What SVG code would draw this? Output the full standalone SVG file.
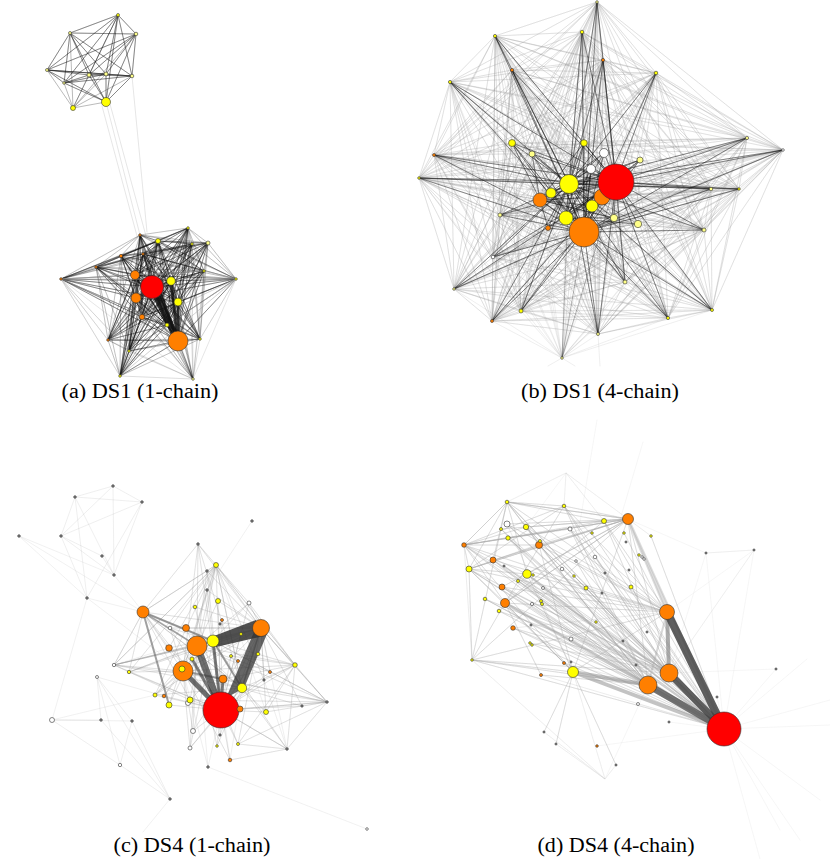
<svg xmlns="http://www.w3.org/2000/svg" width="830" height="859" viewBox="0 0 830 859">
<style>
path{fill:none;stroke-linecap:round;stroke-linejoin:round}
.ad{stroke:#111;stroke-opacity:.42;stroke-width:.7}
.am{stroke:#222;stroke-opacity:.25;stroke-width:.6}
.al{stroke:#aaa;stroke-opacity:.5;stroke-width:.6}
.bl{stroke:#999;stroke-opacity:.26;stroke-width:.6}
.bd{stroke:#111;stroke-opacity:.38;stroke-width:.8}
.cl{stroke:#999;stroke-opacity:.22;stroke-width:.7}
.cf{stroke:#bbb;stroke-opacity:.35;stroke-width:.6}
.dl{stroke:#aaa;stroke-opacity:.28;stroke-width:.8}
.df{stroke:#ccc;stroke-opacity:.3;stroke-width:.6}
circle{stroke:#333;stroke-width:.6}
.r{fill:#ff0000}.o{fill:#ff7f00}.y{fill:#ffff00}.p{fill:#ffff88}.w{fill:#ffffff}.g{fill:#888888}
text{font-family:"Liberation Serif","Times New Roman",serif;font-size:20px;fill:#000}
</style>
<rect width="830" height="859" fill="#fff"/>
<g id="connectors">
<g id="edges-a">
<path class="al" d="M106 102L140 235M102 106L137 236M132 76L147 232M110 104L146 236"/>
<path class="ad" d="M118 15L136 34 118 15 70 33 118 15 47 70 118 15 89 75 118 15 106 74 118 15 132 76 118 15 64 83 118 15 106 102 118 15 73 108"/>
<path class="ad" d="M136 34L70 33 136 34 47 70 136 34 89 75 136 34 106 74 136 34 132 76 136 34 64 83 136 34 106 102 136 34 73 108"/>
<path class="ad" d="M70 33L47 70 70 33 89 75 70 33 106 74 70 33 132 76 70 33 64 83 70 33 106 102 70 33 73 108"/>
<path class="ad" d="M47 70L89 75 47 70 106 74 47 70 132 76 47 70 64 83 47 70 106 102 47 70 73 108"/>
<path class="ad" d="M89 75L106 74 89 75 132 76 89 75 64 83 89 75 106 102 89 75 73 108"/>
<path class="ad" d="M106 74L132 76 106 74 64 83 106 74 106 102 106 74 73 108M132 76L64 83 132 76 106 102 132 76 73 108M64 83L106 102 64 83 73 108M106 102L73 108"/>
<path class="ad" d="M152 287L140 235 152 287 188 228 152 287 158 241 152 287 192 244 152 287 208 243 152 287 121 256 152 287 143 254 152 287 96 267 152 287 61 279 152 287 236 279 152 287 204 271 152 287 135 275 152 287 171 281 152 287 136 298 152 287 178 302 152 287 142 317 152 287 167 325 152 287 178 341 152 287 108 340 152 287 200 339 152 287 129 351 152 287 120 376 152 287 193 379"/>
<path class="ad" d="M178 341L140 235 178 341 188 228 178 341 158 241 178 341 192 244 178 341 208 243 178 341 121 256 178 341 143 254 178 341 96 267 178 341 61 279 178 341 236 279 178 341 204 271 178 341 135 275 178 341 171 281 178 341 136 298 178 341 178 302 178 341 142 317 178 341 167 325 178 341 108 340 178 341 200 339 178 341 129 351 178 341 120 376 178 341 193 379"/>
<path class="ad" d="M135 275L140 235 135 275 188 228 135 275 158 241 135 275 192 244 135 275 208 243 135 275 121 256 135 275 143 254 135 275 96 267 135 275 61 279 135 275 236 279 135 275 204 271 135 275 171 281 135 275 136 298 135 275 178 302 135 275 142 317 135 275 167 325 135 275 108 340 135 275 200 339 135 275 129 351 135 275 120 376 135 275 193 379"/>
<path class="ad" d="M171 281L140 235 171 281 188 228 171 281 158 241 171 281 192 244 171 281 208 243 171 281 121 256 171 281 143 254 171 281 96 267 171 281 61 279 171 281 236 279 171 281 204 271 171 281 136 298 171 281 178 302 171 281 142 317 171 281 167 325 171 281 108 340 171 281 200 339 171 281 129 351 171 281 120 376 171 281 193 379"/>
<path class="ad" d="M136 298L140 235 136 298 188 228 136 298 158 241 136 298 192 244 136 298 208 243 136 298 121 256 136 298 143 254 136 298 96 267 136 298 61 279 136 298 236 279 136 298 204 271 136 298 178 302 136 298 142 317 136 298 167 325 136 298 108 340 136 298 200 339 136 298 129 351 136 298 120 376 136 298 193 379"/>
<path class="ad" d="M178 302L140 235 178 302 188 228 178 302 158 241 178 302 192 244 178 302 208 243 178 302 121 256 178 302 143 254 178 302 96 267 178 302 61 279 178 302 236 279 178 302 204 271 178 302 142 317 178 302 167 325 178 302 108 340 178 302 200 339 178 302 129 351 178 302 120 376 178 302 193 379"/>
<path class="ad" d="M142 317L140 235 142 317 188 228 142 317 158 241 142 317 192 244 142 317 208 243 142 317 121 256 142 317 143 254 142 317 96 267 142 317 61 279 142 317 236 279 142 317 204 271 142 317 167 325 142 317 108 340 142 317 200 339 142 317 129 351 142 317 120 376 142 317 193 379"/>
<path class="ad" d="M158 241L140 235 158 241 188 228 158 241 192 244 158 241 208 243 158 241 121 256 158 241 143 254 158 241 96 267 158 241 61 279 158 241 236 279 158 241 204 271 158 241 167 325 158 241 108 340 158 241 200 339 158 241 129 351 158 241 120 376 158 241 193 379"/>
<path class="ad" d="M143 254L140 235 143 254 188 228 143 254 192 244 143 254 208 243 143 254 121 256 143 254 96 267 143 254 61 279 143 254 236 279 143 254 204 271 143 254 167 325 143 254 108 340 143 254 200 339 143 254 129 351 143 254 120 376 143 254 193 379"/>
<path class="ad" d="M167 325L140 235 167 325 188 228 167 325 192 244 167 325 208 243 167 325 121 256 167 325 96 267 167 325 61 279 167 325 236 279 167 325 204 271 167 325 108 340 167 325 200 339 167 325 129 351 167 325 120 376 167 325 193 379"/>
<path class="am" d="M140 235L188 228 140 235 192 244 140 235 208 243 140 235 121 256 140 235 96 267 140 235 61 279 140 235 236 279 140 235 204 271 140 235 108 340 140 235 200 339 140 235 129 351 140 235 120 376 140 235 193 379"/>
<path class="am" d="M188 228L192 244 188 228 208 243 188 228 121 256 188 228 96 267 188 228 61 279 188 228 236 279 188 228 204 271 188 228 108 340 188 228 200 339 188 228 129 351 188 228 120 376 188 228 193 379"/>
<path class="am" d="M192 244L208 243 192 244 121 256 192 244 96 267 192 244 61 279 192 244 236 279 192 244 204 271 192 244 108 340 192 244 200 339 192 244 129 351 192 244 120 376 192 244 193 379"/>
<path class="am" d="M208 243L121 256 208 243 96 267 208 243 61 279 208 243 236 279 208 243 204 271 208 243 108 340 208 243 200 339 208 243 129 351 208 243 120 376 208 243 193 379"/>
<path class="am" d="M121 256L96 267 121 256 61 279 121 256 236 279 121 256 204 271 121 256 108 340 121 256 200 339 121 256 129 351 121 256 120 376 121 256 193 379"/>
<path class="am" d="M96 267L61 279 96 267 236 279 96 267 204 271 96 267 108 340 96 267 200 339 96 267 129 351 96 267 120 376 96 267 193 379"/>
<path class="al" d="M61 279L236 279 61 279 204 271 61 279 108 340 61 279 200 339 61 279 129 351 61 279 120 376 61 279 193 379M236 279L204 271 236 279 108 340 236 279 200 339 236 279 129 351 236 279 120 376 236 279 193 379"/>
<path class="am" d="M204 271L108 340 204 271 200 339 204 271 129 351 204 271 120 376 204 271 193 379M108 340L200 339 108 340 129 351 108 340 120 376 108 340 193 379M200 339L129 351 200 339 120 376 200 339 193 379M129 351L120 376 129 351 193 379M120 376L193 379"/>
<path d="M152 287L178 341" stroke="#111" stroke-opacity=".85" stroke-width="7"/>
<path d="M171 281L178 341M178 302L178 341M160 292L176 336" stroke="#111" stroke-opacity=".8" stroke-width="3"/>
</g>
<g id="edges-b">
<path class="bl" d="M597 2L582 32 597 2 495 36 597 2 603 60 597 2 512 70 597 2 656 73 597 2 450 82 597 2 747 138 597 2 783 150 597 2 434 155 597 2 419 178 597 2 711 189 597 2 739 189 597 2 500 215 597 2 704 230 597 2 493 257 597 2 625 282 597 2 454 289 597 2 521 311 597 2 492 321 597 2 668 318 597 2 712 310 597 2 598 334 597 2 562 358"/>
<path class="bl" d="M582 32L495 36 582 32 603 60 582 32 512 70 582 32 656 73 582 32 450 82 582 32 747 138 582 32 783 150 582 32 434 155 582 32 419 178 582 32 711 189 582 32 739 189 582 32 500 215 582 32 704 230 582 32 493 257 582 32 625 282 582 32 454 289 582 32 521 311 582 32 492 321 582 32 668 318 582 32 712 310 582 32 598 334 582 32 562 358"/>
<path class="bl" d="M495 36L603 60 495 36 512 70 495 36 656 73 495 36 450 82 495 36 747 138 495 36 783 150 495 36 434 155 495 36 419 178 495 36 711 189 495 36 739 189 495 36 500 215 495 36 704 230 495 36 493 257 495 36 625 282 495 36 454 289 495 36 521 311 495 36 492 321 495 36 668 318 495 36 712 310 495 36 598 334 495 36 562 358"/>
<path class="bl" d="M603 60L512 70 603 60 656 73 603 60 450 82 603 60 747 138 603 60 783 150 603 60 434 155 603 60 419 178 603 60 711 189 603 60 739 189 603 60 500 215 603 60 704 230 603 60 493 257 603 60 625 282 603 60 454 289 603 60 521 311 603 60 492 321 603 60 668 318 603 60 712 310 603 60 598 334 603 60 562 358"/>
<path class="bl" d="M512 70L656 73 512 70 450 82 512 70 747 138 512 70 783 150 512 70 434 155 512 70 419 178 512 70 711 189 512 70 739 189 512 70 500 215 512 70 704 230 512 70 493 257 512 70 625 282 512 70 454 289 512 70 521 311 512 70 492 321 512 70 668 318 512 70 712 310 512 70 598 334 512 70 562 358"/>
<path class="bl" d="M656 73L450 82 656 73 747 138 656 73 783 150 656 73 434 155 656 73 419 178 656 73 711 189 656 73 739 189 656 73 500 215 656 73 704 230 656 73 493 257 656 73 625 282 656 73 454 289 656 73 521 311 656 73 492 321 656 73 668 318 656 73 712 310 656 73 598 334 656 73 562 358"/>
<path class="bl" d="M450 82L747 138 450 82 783 150 450 82 434 155 450 82 419 178 450 82 711 189 450 82 739 189 450 82 500 215 450 82 704 230 450 82 493 257 450 82 625 282 450 82 454 289 450 82 521 311 450 82 492 321 450 82 668 318 450 82 712 310 450 82 598 334 450 82 562 358"/>
<path class="bl" d="M747 138L783 150 747 138 434 155 747 138 419 178 747 138 711 189 747 138 739 189 747 138 500 215 747 138 704 230 747 138 493 257 747 138 625 282 747 138 454 289 747 138 521 311 747 138 492 321 747 138 668 318 747 138 712 310 747 138 598 334 747 138 562 358"/>
<path class="bl" d="M783 150L434 155 783 150 419 178 783 150 711 189 783 150 739 189 783 150 500 215 783 150 704 230 783 150 493 257 783 150 625 282 783 150 454 289 783 150 521 311 783 150 492 321 783 150 668 318 783 150 712 310 783 150 598 334 783 150 562 358"/>
<path class="bl" d="M434 155L419 178 434 155 711 189 434 155 739 189 434 155 500 215 434 155 704 230 434 155 493 257 434 155 625 282 434 155 454 289 434 155 521 311 434 155 492 321 434 155 668 318 434 155 712 310 434 155 598 334 434 155 562 358"/>
<path class="bl" d="M419 178L711 189 419 178 739 189 419 178 500 215 419 178 704 230 419 178 493 257 419 178 625 282 419 178 454 289 419 178 521 311 419 178 492 321 419 178 668 318 419 178 712 310 419 178 598 334 419 178 562 358"/>
<path class="bl" d="M711 189L739 189 711 189 500 215 711 189 704 230 711 189 493 257 711 189 625 282 711 189 454 289 711 189 521 311 711 189 492 321 711 189 668 318 711 189 712 310 711 189 598 334 711 189 562 358"/>
<path class="bl" d="M739 189L500 215 739 189 704 230 739 189 493 257 739 189 625 282 739 189 454 289 739 189 521 311 739 189 492 321 739 189 668 318 739 189 712 310 739 189 598 334 739 189 562 358"/>
<path class="bl" d="M500 215L704 230 500 215 493 257 500 215 625 282 500 215 454 289 500 215 521 311 500 215 492 321 500 215 668 318 500 215 712 310 500 215 598 334 500 215 562 358M704 230L493 257 704 230 625 282 704 230 454 289 704 230 521 311 704 230 492 321 704 230 668 318 704 230 712 310 704 230 598 334 704 230 562 358"/>
<path class="bl" d="M493 257L625 282 493 257 454 289 493 257 521 311 493 257 492 321 493 257 668 318 493 257 712 310 493 257 598 334 493 257 562 358M625 282L454 289 625 282 521 311 625 282 492 321 625 282 668 318 625 282 712 310 625 282 598 334 625 282 562 358M454 289L521 311 454 289 492 321 454 289 668 318 454 289 712 310 454 289 598 334 454 289 562 358"/>
<path class="bl" d="M521 311L492 321 521 311 668 318 521 311 712 310 521 311 598 334 521 311 562 358M492 321L668 318 492 321 712 310 492 321 598 334 492 321 562 358M668 318L712 310 668 318 598 334 668 318 562 358M712 310L598 334 712 310 562 358M598 334L562 358M562 358L575 366M598 334L600 366M562 358L548 366"/>
<path class="bl" d="M602 197L597 2 602 197 582 32 602 197 495 36 602 197 603 60 602 197 512 70 602 197 656 73 602 197 450 82 602 197 747 138 602 197 783 150 602 197 434 155 602 197 419 178 602 197 711 189 602 197 739 189 602 197 500 215 602 197 704 230 602 197 493 257 602 197 625 282 602 197 454 289 602 197 521 311 602 197 492 321 602 197 668 318 602 197 712 310 602 197 598 334 602 197 562 358"/>
<path class="bl" d="M540 200L597 2 540 200 582 32 540 200 495 36 540 200 603 60 540 200 512 70 540 200 656 73 540 200 450 82 540 200 747 138 540 200 783 150 540 200 434 155 540 200 419 178 540 200 711 189 540 200 739 189 540 200 500 215 540 200 704 230 540 200 493 257 540 200 625 282 540 200 454 289 540 200 521 311 540 200 492 321 540 200 668 318 540 200 712 310 540 200 598 334 540 200 562 358"/>
<path class="bl" d="M592 206L597 2 592 206 582 32 592 206 495 36 592 206 603 60 592 206 512 70 592 206 656 73 592 206 450 82 592 206 747 138 592 206 783 150 592 206 434 155 592 206 419 178 592 206 711 189 592 206 739 189 592 206 500 215 592 206 704 230 592 206 493 257 592 206 625 282 592 206 454 289 592 206 521 311 592 206 492 321 592 206 668 318 592 206 712 310 592 206 598 334 592 206 562 358"/>
<path class="bl" d="M512 143L597 2 512 143 582 32 512 143 495 36 512 143 603 60 512 143 512 70 512 143 656 73 512 143 450 82 512 143 747 138 512 143 783 150 512 143 434 155 512 143 419 178 512 143 711 189 512 143 739 189 512 143 500 215 512 143 704 230 512 143 493 257 512 143 625 282 512 143 454 289 512 143 521 311 512 143 492 321 512 143 668 318 512 143 712 310 512 143 598 334 512 143 562 358"/>
<path class="bl" d="M584 143L597 2 584 143 582 32 584 143 495 36 584 143 603 60 584 143 512 70 584 143 656 73 584 143 450 82 584 143 747 138 584 143 783 150 584 143 434 155 584 143 419 178 584 143 711 189 584 143 739 189 584 143 500 215 584 143 704 230 584 143 493 257 584 143 625 282 584 143 454 289 584 143 521 311 584 143 492 321 584 143 668 318 584 143 712 310 584 143 598 334 584 143 562 358"/>
<path class="bl" d="M614 218L597 2 614 218 582 32 614 218 495 36 614 218 603 60 614 218 512 70 614 218 656 73 614 218 450 82 614 218 747 138 614 218 783 150 614 218 434 155 614 218 419 178 614 218 711 189 614 218 739 189 614 218 500 215 614 218 704 230 614 218 493 257 614 218 625 282 614 218 454 289 614 218 521 311 614 218 492 321 614 218 668 318 614 218 712 310 614 218 598 334 614 218 562 358"/>
<path class="bl" d="M566 218L597 2 566 218 582 32 566 218 495 36 566 218 603 60 566 218 512 70 566 218 656 73 566 218 450 82 566 218 747 138 566 218 434 155 566 218 419 178 566 218 711 189 566 218 500 215 566 218 704 230 566 218 493 257 566 218 625 282 566 218 454 289 566 218 521 311 566 218 492 321 566 218 668 318 566 218 712 310 566 218 598 334 566 218 562 358"/>
<path class="bd" d="M616 182L597 2 616 182 582 32 616 182 495 36 616 182 603 60 616 182 512 70 616 182 656 73 616 182 450 82 616 182 747 138 616 182 783 150 616 182 434 155 616 182 419 178 616 182 711 189 616 182 739 189 616 182 500 215 616 182 704 230 616 182 493 257 616 182 625 282 616 182 454 289 616 182 521 311 616 182 492 321 616 182 668 318 616 182 712 310 616 182 598 334 616 182 562 358"/>
<path class="bd" d="M584 232L597 2 584 232 582 32 584 232 495 36 584 232 603 60 584 232 512 70 584 232 656 73 584 232 450 82 584 232 747 138 584 232 783 150 584 232 434 155 584 232 419 178 584 232 711 189 584 232 739 189 584 232 500 215 584 232 704 230 584 232 493 257 584 232 625 282 584 232 454 289 584 232 521 311 584 232 492 321 584 232 668 318 584 232 712 310 584 232 598 334 584 232 562 358"/>
<path class="bd" d="M569 184L597 2 569 184 582 32 569 184 495 36 569 184 603 60 569 184 512 70 569 184 656 73 569 184 450 82 569 184 747 138 569 184 783 150 569 184 434 155 569 184 419 178 569 184 711 189 569 184 739 189 569 184 500 215 569 184 704 230 569 184 493 257 569 184 625 282 569 184 454 289 569 184 521 311 569 184 492 321 569 184 668 318 569 184 712 310 569 184 598 334 569 184 562 358"/>
<path class="bd" d="M616 182L512 143 616 182 584 143 616 182 532 154 616 182 604 153 616 182 640 160 616 182 591 169 616 182 569 184 616 182 551 193 616 182 540 200 616 182 602 197 616 182 592 206 616 182 566 218 616 182 614 218 616 182 548 228 616 182 638 224 616 182 584 232"/>
<path class="bd" d="M584 232L512 143 584 232 584 143 584 232 532 154 584 232 604 153 584 232 640 160 584 232 591 169 584 232 569 184 584 232 551 193 584 232 540 200 584 232 602 197 584 232 592 206 584 232 566 218 584 232 614 218 584 232 548 228 584 232 638 224"/>
<path class="bd" d="M569 184L512 143 569 184 584 143 569 184 532 154 569 184 604 153 569 184 640 160 569 184 591 169 569 184 551 193 569 184 540 200 569 184 602 197 569 184 592 206 569 184 566 218 569 184 614 218 569 184 548 228 569 184 638 224"/>
<path class="bd" d="M540 200L512 143 540 200 584 143 540 200 532 154 540 200 604 153 540 200 640 160 540 200 591 169 540 200 602 197 540 200 592 206 540 200 566 218 540 200 614 218 540 200 548 228 540 200 638 224M566 218L512 143 566 218 584 143 566 218 604 153 566 218 640 160 566 218 591 169 566 218 602 197 566 218 614 218 566 218 638 224 566 218 532 154"/>
</g>
<g id="edges-c">
<path class="cl" d="M75 497L113 486 142 502 75 497 61 536M75 497L114 575M113 486L114 575M113 486L61 536M142 502L61 536M142 502L114 575M142 502L87 598M61 536L114 575M61 536L102 556M102 556L114 575M75 497L87 598M87 598L61 536"/>
<path class="cf" d="M19 536L114 575M19 536L87 598M19 536L143 612M114 575L143 612M87 598L143 612M87 598L183 671M87 598L52 720M252 521L207 590M208 767L367 829M170 799L143 832M52 720L155 695"/>
<path class="cl" d="M52 720L132 721M52 720L120 765M97 677L120 765M97 677L132 721M97 677L170 799M132 721L170 799M101 720L170 799M132 721L120 765M101 720L97 677M52 720L101 720M120 765L170 799M97 677L164 696"/>
<path class="cl" d="M221 710L198 544 221 710 216 565 221 710 207 571 221 710 207 590 221 710 218 601 221 710 195 607 221 710 249 603 221 710 143 612 221 710 170 628 221 710 186 628 221 710 222 620 221 710 261 628 221 710 213 641 221 710 197 646 221 710 241 634 221 710 169 648 221 710 192 659 221 710 231 656 221 710 258 654 221 710 114 665 221 710 129 672 221 710 183 671 221 710 295 665 221 710 270 672 221 710 223 679 221 710 264 680 221 710 242 688 221 710 155 695 221 710 164 696 221 710 190 700 221 710 169 705 221 710 240 709 221 710 266 712 221 710 302 706 221 710 327 702 221 710 193 731 221 710 220 735 221 710 190 748 221 710 217 746 221 710 238 744 221 710 287 749 221 710 230 760 221 710 208 767"/>
<path class="cl" d="M261 628L198 544 261 628 216 565 261 628 207 571 261 628 207 590 261 628 218 601 261 628 195 607 261 628 249 603 261 628 143 612 261 628 170 628 261 628 186 628 261 628 197 646 261 628 169 648 261 628 192 659 261 628 114 665 261 628 129 672 261 628 183 671 261 628 295 665 261 628 270 672 261 628 264 680 261 628 155 695 261 628 190 700 261 628 266 712 261 628 302 706 261 628 327 702 261 628 193 731 261 628 220 735 261 628 238 744 261 628 287 749"/>
<path class="cl" d="M197 646L198 544 197 646 216 565 197 646 207 571 197 646 218 601 197 646 249 603 197 646 143 612 197 646 170 628 197 646 114 665 197 646 129 672 197 646 295 665 197 646 270 672 197 646 155 695 197 646 164 696 197 646 169 705 197 646 266 712 197 646 327 702 197 646 193 731 197 646 190 748 197 646 217 746 197 646 238 744 197 646 208 767"/>
<path class="cl" d="M183 671L198 544 183 671 216 565 183 671 207 590 183 671 249 603 183 671 143 612 183 671 170 628 183 671 114 665 183 671 129 672 183 671 295 665 183 671 155 695 183 671 164 696 183 671 302 706 183 671 327 702 183 671 193 731 183 671 190 748 183 671 230 760 183 671 208 767"/>
<path class="cl" d="M216 565L143 612 216 565 170 628 216 565 169 648 216 565 129 672 216 565 114 665 216 565 155 695 216 565 169 705 216 565 190 700 216 565 242 688 216 565 264 680 216 565 249 603 216 565 198 544 216 565 295 665 216 565 266 712"/>
<path class="cl" d="M295 665L249 603 295 665 213 641 295 665 242 688 295 665 327 702 295 665 287 749 295 665 266 712 295 665 238 744 295 665 264 680 295 665 223 679 295 665 231 656 295 665 216 565M327 702L261 628 327 702 266 712 327 702 238 744 327 702 287 749 327 702 242 688 327 702 213 641 327 702 240 709 327 702 223 679 327 702 190 700 327 702 302 706"/>
<path class="cl" d="M114 665L143 612 114 665 197 646 114 665 213 641 114 665 242 688 114 665 190 700 114 665 216 565 114 665 223 679 114 665 169 648M143 612L213 641 143 612 242 688 143 612 198 544 143 612 190 700 143 612 216 565 143 612 169 648 143 612 129 672 143 612 114 665"/>
<path class="cl" d="M213 641L143 612 213 641 170 628 213 641 114 665 213 641 129 672 213 641 155 695 213 641 190 748 213 641 242 688 213 641 287 749 213 641 327 702 213 641 230 760M242 688L198 544 242 688 216 565 242 688 143 612 242 688 155 695 242 688 190 748 242 688 287 749 242 688 217 746 242 688 230 760M287 749L238 744 287 749 221 710 287 749 230 760 287 749 264 680"/>
<path d="M143 612L169 705M143 612L213 641M213 641L242 688M183 671L223 679" stroke="#777" stroke-opacity=".7" stroke-width="2"/>
<path d="M143 612L197 646M261 628L242 688" stroke="#777" stroke-opacity=".6" stroke-width="1.5"/>
<path d="M197 646L221 710" stroke="#333" stroke-opacity=".7" stroke-width="7"/>
<path d="M183 671L221 710" stroke="#333" stroke-opacity=".7" stroke-width="5"/>
<path d="M213 641L221 710M223 679L221 710M192 659L221 710" stroke="#333" stroke-opacity=".6" stroke-width="3"/>
<polygon points="214,636 256,620 264,636 216,647" fill="#333" fill-opacity=".85"/>
<polygon points="254,632 267,634 244,688 226,698" fill="#333" fill-opacity=".75"/>
</g>
<g id="edges-d">
<path class="df" d="M566 473L507 502 566 473 564 506 566 473 604 521 566 473 628 519 566 473 526 527M597 420L577 540M643 442L620 520M605 779L544 732 605 779 556 744 605 779 616 765 605 779 472 660 605 779 573 672 605 779 648 685"/>
<path class="df" d="M724 729L830 725M724 729L820 800M724 729L800 840M724 729L780 830M724 729L760 859M724 729L776 669M724 729L717 697M724 729L669 722M724 729L754 550M724 729L706 553M724 729L807 659M724 729L830 700M706 553L754 550 706 553 669 673 754 550 669 673M776 669L669 673M706 553L628 519M754 550L667 612M724 729L597 746M724 729L638 704"/>
<path class="dl" d="M724 729L507 502 724 729 564 506 724 729 507 524 724 729 501 529 724 729 526 527 724 729 604 521 724 729 628 519 724 729 570 529 724 729 592 533 724 729 624 533 724 729 651 536 724 729 508 538 724 729 464 545 724 729 539 545 724 729 493 560 724 729 595 557 724 729 576 561 724 729 504 566 724 729 469 569 724 729 562 569 724 729 527 574 724 729 574 576 724 729 518 581 724 729 502 587 724 729 543 588 724 729 586 588 724 729 631 587 724 729 485 599 724 729 532 604 724 729 541 601 724 729 499 611 724 729 596 622 724 729 513 628 724 729 571 639 724 729 530 643 724 729 472 660 724 729 564 663 724 729 541 675"/>
<path class="dl" d="M669 673L507 502 669 673 564 506 669 673 507 524 669 673 526 527 669 673 604 521 669 673 570 529 669 673 508 538 669 673 464 545 669 673 539 545 669 673 493 560 669 673 595 557 669 673 504 566 669 673 469 569 669 673 527 574 669 673 518 581 669 673 502 587 669 673 543 588 669 673 485 599 669 673 505 603 669 673 499 611 669 673 513 628 669 673 530 643 669 673 472 660 669 673 571 639"/>
<path class="dl" d="M648 685L507 502 648 685 564 506 648 685 501 529 648 685 526 527 648 685 570 529 648 685 508 538 648 685 464 545 648 685 539 545 648 685 493 560 648 685 576 561 648 685 469 569 648 685 527 574 648 685 518 581 648 685 502 587 648 685 532 604 648 685 485 599 648 685 505 603 648 685 513 628 648 685 472 660 648 685 573 672 648 685 541 675 648 685 564 663"/>
<path class="dl" d="M667 612L507 502 667 612 564 506 667 612 507 524 667 612 526 527 667 612 604 521 667 612 628 519 667 612 570 529 667 612 464 545 667 612 539 545 667 612 493 560 667 612 469 569 667 612 527 574 667 612 502 587 667 612 505 603 667 612 472 660 667 612 573 672 667 612 513 628"/>
<path class="dl" d="M628 519L507 502 628 519 564 506 628 519 507 524 628 519 501 529 628 519 526 527 628 519 508 538 628 519 464 545 628 519 539 545 628 519 493 560 628 519 469 569 628 519 527 574 628 519 502 587 628 519 505 603 628 519 472 660 628 519 573 672 628 519 648 685 628 519 669 673 628 519 651 536"/>
<path class="dl" d="M464 545L507 502 464 545 564 506 464 545 604 521 464 545 628 519 464 545 526 527 464 545 570 529 464 545 539 545 464 545 469 569 464 545 505 603 464 545 527 574 464 545 573 672 464 545 472 660M469 569L507 502 469 569 564 506 469 569 628 519 469 569 539 545 469 569 527 574 469 569 505 603 469 569 573 672 469 569 472 660 469 569 604 521"/>
<path class="dl" d="M507 502L564 506 507 502 628 519 507 502 604 521 507 502 539 545 507 502 527 574 507 502 472 660 507 502 493 560 507 502 464 545M505 603L628 519 505 603 604 521 505 603 564 506 505 603 573 672 505 603 472 660 505 603 541 675 505 603 527 574M573 672L527 574 573 672 539 545 573 672 505 603 573 672 472 660 573 672 544 732 573 672 556 744 573 672 616 765 573 672 507 524"/>
<path d="M628 519L724 729M628 519L667 612" stroke="#bbb" stroke-opacity=".5" stroke-width="3"/>
<path d="M527 574L724 729M667 612L648 685" stroke="#aaa" stroke-opacity=".45" stroke-width="2"/>
<path d="M505 603L724 729" stroke="#999" stroke-opacity=".45" stroke-width="3"/>
<path d="M573 672L724 729M573 672L648 685" stroke="#888" stroke-opacity=".5" stroke-width="4"/>
<path d="M667 612L669 673" stroke="#888" stroke-opacity=".7" stroke-width="4"/>
<path d="M648 685L724 729" stroke="#555" stroke-opacity=".8" stroke-width="7"/>
<path d="M669 673L724 729" stroke="#444" stroke-opacity=".85" stroke-width="7"/>
<path d="M667 612L724 729" stroke="#444" stroke-opacity=".85" stroke-width="8"/>
</g>
</g>
<g id="nodes-a">
<g id="a-t1"><circle cx="118" cy="15" r="1.5" class="y"/></g>
<g id="a-t2"><circle cx="136" cy="34" r="1.8" class="p"/></g>
<g id="a-t3"><circle cx="70" cy="33" r="1.5" class="p"/></g>
<g id="a-t4"><circle cx="47" cy="70" r="1.5" class="p"/></g>
<g id="a-t5"><circle cx="89" cy="75" r="2" class="p"/></g>
<g id="a-t6"><circle cx="106" cy="74" r="2" class="p"/></g>
<g id="a-t7"><circle cx="132" cy="76" r="1.8" class="p"/></g>
<g id="a-t8"><circle cx="64" cy="83" r="1.3" class="p"/></g>
<g id="a-t9"><circle cx="106" cy="102" r="4.5" class="y"/></g>
<g id="a-t10"><circle cx="73" cy="108" r="2.5" class="y"/></g>
<g id="a-b1"><circle cx="140" cy="235" r="1.3" class="o"/></g>
<g id="a-b2"><circle cx="188" cy="228" r="1.3" class="y"/></g>
<g id="a-b3"><circle cx="158" cy="241" r="2.5" class="y"/></g>
<g id="a-b4"><circle cx="192" cy="244" r="1.3" class="y"/></g>
<g id="a-b5"><circle cx="208" cy="243" r="2" class="p"/></g>
<g id="a-b6"><circle cx="121" cy="256" r="1.7" class="o"/></g>
<g id="a-b7"><circle cx="143" cy="254" r="1.3" class="o"/></g>
<g id="a-b8"><circle cx="96" cy="267" r="1.3" class="o"/></g>
<g id="a-b9"><circle cx="61" cy="279" r="1.3" class="o"/></g>
<g id="a-b10"><circle cx="236" cy="279" r="1.3" class="y"/></g>
<g id="a-b11"><circle cx="204" cy="271" r="1.3" class="y"/></g>
<g id="a-b12"><circle cx="135" cy="275" r="4.5" class="o"/></g>
<g id="a-b13"><circle cx="152" cy="287" r="11.5" class="r"/></g>
<g id="a-b14"><circle cx="171" cy="281" r="4.3" class="y"/></g>
<g id="a-b15"><circle cx="136" cy="298" r="5" class="o"/></g>
<g id="a-b16"><circle cx="178" cy="302" r="4" class="y"/></g>
<g id="a-b17"><circle cx="142" cy="317" r="2.7" class="o"/></g>
<g id="a-b18"><circle cx="167" cy="325" r="2" class="y"/></g>
<g id="a-b19"><circle cx="178" cy="341" r="10" class="o"/></g>
<g id="a-b20"><circle cx="108" cy="340" r="1.3" class="o"/></g>
<g id="a-b21"><circle cx="200" cy="339" r="1.3" class="y"/></g>
<g id="a-b22"><circle cx="129" cy="351" r="1.3" class="y"/></g>
<g id="a-b23"><circle cx="120" cy="376" r="1.3" class="y"/></g>
<g id="a-b24"><circle cx="193" cy="379" r="1.3" class="p"/></g>
</g>
<g id="nodes-b">
<g id="b-p1"><circle cx="597" cy="2" r="1.3" class="p"/></g>
<g id="b-p2"><circle cx="582" cy="32" r="1.8" class="y"/></g>
<g id="b-p3"><circle cx="495" cy="36" r="1.6" class="y"/></g>
<g id="b-p4"><circle cx="603" cy="60" r="1.6" class="o"/></g>
<g id="b-p5"><circle cx="512" cy="70" r="1.6" class="o"/></g>
<g id="b-p6"><circle cx="656" cy="73" r="1.8" class="y"/></g>
<g id="b-p7"><circle cx="450" cy="82" r="1.6" class="y"/></g>
<g id="b-p8"><circle cx="747" cy="138" r="1.6" class="p"/></g>
<g id="b-p9"><circle cx="783" cy="150" r="1.3" class="w"/></g>
<g id="b-p10"><circle cx="434" cy="155" r="1.5" class="o"/></g>
<g id="b-p11"><circle cx="419" cy="178" r="1.3" class="y"/></g>
<g id="b-p12"><circle cx="711" cy="189" r="1.8" class="p"/></g>
<g id="b-p13"><circle cx="739" cy="189" r="1.3" class="y"/></g>
<g id="b-p14"><circle cx="500" cy="215" r="2" class="p"/></g>
<g id="b-p15"><circle cx="704" cy="230" r="2" class="p"/></g>
<g id="b-p16"><circle cx="493" cy="257" r="1.8" class="w"/></g>
<g id="b-p17"><circle cx="625" cy="282" r="2" class="p"/></g>
<g id="b-p18"><circle cx="454" cy="289" r="1.3" class="p"/></g>
<g id="b-p19"><circle cx="521" cy="311" r="2" class="y"/></g>
<g id="b-p20"><circle cx="492" cy="321" r="1.5" class="o"/></g>
<g id="b-p21"><circle cx="668" cy="318" r="1.6" class="y"/></g>
<g id="b-p22"><circle cx="712" cy="310" r="1.5" class="y"/></g>
<g id="b-p23"><circle cx="598" cy="334" r="1.5" class="p"/></g>
<g id="b-p24"><circle cx="562" cy="358" r="1.3" class="p"/></g>
<g id="b-c1"><circle cx="512" cy="143" r="3.5" class="y"/></g>
<g id="b-c2"><circle cx="584" cy="143" r="3.3" class="y"/></g>
<g id="b-c3"><circle cx="532" cy="154" r="3" class="p"/></g>
<g id="b-c4"><circle cx="604" cy="153" r="4.5" class="w"/></g>
<g id="b-c5"><circle cx="640" cy="160" r="3" class="p"/></g>
<g id="b-c6"><circle cx="591" cy="169" r="4.5" class="w"/></g>
<g id="b-c8"><circle cx="569" cy="184" r="9.5" class="y"/></g>
<g id="b-c9"><circle cx="551" cy="193" r="5" class="y"/></g>
<g id="b-c10"><circle cx="540" cy="200" r="7" class="o"/></g>
<g id="b-c11"><circle cx="602" cy="197" r="8" class="o"/></g>
<g id="b-c7"><circle cx="616" cy="182" r="18" class="r"/></g>
<g id="b-c12"><circle cx="592" cy="206" r="6" class="y"/></g>
<g id="b-c13"><circle cx="566" cy="218" r="7" class="y"/></g>
<g id="b-c14"><circle cx="614" cy="218" r="3.7" class="p"/></g>
<g id="b-c15"><circle cx="548" cy="228" r="2.5" class="o"/></g>
<g id="b-c16"><circle cx="638" cy="224" r="3.7" class="p"/></g>
<g id="b-c17"><circle cx="584" cy="232" r="15" class="o"/></g>
</g>
<g id="nodes-c">
<g id="c-s1"><circle cx="113" cy="486" r="1.3" class="g"/></g>
<g id="c-s2"><circle cx="75" cy="497" r="1.3" class="g"/></g>
<g id="c-s3"><circle cx="142" cy="502" r="1.3" class="g"/></g>
<g id="c-s4"><circle cx="19" cy="536" r="1.3" class="g"/></g>
<g id="c-s5"><circle cx="61" cy="536" r="1.3" class="g"/></g>
<g id="c-s6"><circle cx="102" cy="556" r="1.3" class="g"/></g>
<g id="c-s7"><circle cx="114" cy="575" r="1.3" class="g"/></g>
<g id="c-s8"><circle cx="87" cy="598" r="1.3" class="g"/></g>
<g id="c-s9"><circle cx="252" cy="521" r="1.3" class="g"/></g>
<g id="c-u1"><circle cx="97" cy="677" r="1.5" class="w"/></g>
<g id="c-u2"><circle cx="52" cy="720" r="2.5" class="w"/></g>
<g id="c-u3"><circle cx="101" cy="720" r="1.3" class="g"/></g>
<g id="c-u4"><circle cx="132" cy="721" r="1.3" class="g"/></g>
<g id="c-u5"><circle cx="120" cy="765" r="1.7" class="w"/></g>
<g id="c-u6"><circle cx="170" cy="799" r="1.3" class="g"/></g>
<g id="c-u7"><circle cx="367" cy="829" r="1.3" class="w"/></g>
<g id="c-n1"><circle cx="198" cy="544" r="1.3" class="g"/></g>
<g id="c-n2"><circle cx="216" cy="565" r="2.5" class="y"/></g>
<g id="c-n3"><circle cx="207" cy="571" r="1.3" class="g"/></g>
<g id="c-n4"><circle cx="207" cy="590" r="1.3" class="g"/></g>
<g id="c-n5"><circle cx="218" cy="601" r="2.5" class="y"/></g>
<g id="c-n6"><circle cx="195" cy="607" r="1.8" class="y"/></g>
<g id="c-n7"><circle cx="249" cy="603" r="2" class="w"/></g>
<g id="c-n8"><circle cx="143" cy="612" r="6" class="o"/></g>
<g id="c-n9"><circle cx="170" cy="628" r="1.8" class="w"/></g>
<g id="c-n10"><circle cx="186" cy="628" r="3.5" class="o"/></g>
<g id="c-n11"><circle cx="222" cy="620" r="1.5" class="o"/></g>
<g id="c-n12"><circle cx="220" cy="624" r="1.2" class="g"/></g>
<g id="c-n13"><circle cx="261" cy="628" r="8.5" class="o"/></g>
<g id="c-n16"><circle cx="241" cy="634" r="1.5" class="y"/></g>
<g id="c-n15"><circle cx="197" cy="646" r="10" class="o"/></g>
<g id="c-n14"><circle cx="213" cy="641" r="6" class="y"/></g>
<g id="c-n17"><circle cx="169" cy="648" r="3.3" class="o"/></g>
<g id="c-n18"><circle cx="192" cy="659" r="2" class="y"/></g>
<g id="c-n19"><circle cx="231" cy="656" r="1.5" class="y"/></g>
<g id="c-n20"><circle cx="238" cy="661" r="1.5" class="o"/></g>
<g id="c-n21"><circle cx="258" cy="654" r="1.8" class="y"/></g>
<g id="c-n22"><circle cx="114" cy="665" r="1.7" class="w"/></g>
<g id="c-n23"><circle cx="129" cy="672" r="1.7" class="y"/></g>
<g id="c-n24"><circle cx="183" cy="671" r="10" class="o"/><circle cx="182" cy="669" r="3" class="y"/></g>
<g id="c-n25"><circle cx="295" cy="665" r="2.3" class="y"/></g>
<g id="c-n26"><circle cx="270" cy="672" r="1.5" class="o"/></g>
<g id="c-n27"><circle cx="223" cy="679" r="4" class="o"/></g>
<g id="c-n28"><circle cx="264" cy="680" r="1.2" class="g"/></g>
<g id="c-n29"><circle cx="242" cy="688" r="4.7" class="y"/></g>
<g id="c-n30"><circle cx="155" cy="695" r="2" class="y"/></g>
<g id="c-n31"><circle cx="164" cy="696" r="1.8" class="o"/></g>
<g id="c-n33"><circle cx="188" cy="703" r="2.5" class="w"/></g>
<g id="c-n32"><circle cx="190" cy="700" r="3" class="y"/></g>
<g id="c-n34"><circle cx="169" cy="705" r="3" class="y"/></g>
<g id="c-n35"><circle cx="221" cy="710" r="18" class="r"/></g>
<g id="c-n36"><circle cx="240" cy="709" r="3" class="o"/></g>
<g id="c-n37"><circle cx="266" cy="712" r="2.5" class="y"/></g>
<g id="c-n38"><circle cx="302" cy="706" r="1.2" class="g"/></g>
<g id="c-n39"><circle cx="327" cy="702" r="1.3" class="g"/></g>
<g id="c-n40"><circle cx="193" cy="731" r="2.5" class="w"/></g>
<g id="c-n41"><circle cx="220" cy="735" r="1.2" class="g"/></g>
<g id="c-n42"><circle cx="190" cy="748" r="2" class="w"/></g>
<g id="c-n43"><circle cx="217" cy="746" r="1.3" class="y"/></g>
<g id="c-n44"><circle cx="238" cy="744" r="1.5" class="y"/></g>
<g id="c-n45"><circle cx="287" cy="749" r="1.3" class="g"/></g>
<g id="c-n46"><circle cx="230" cy="760" r="1.8" class="o"/></g>
<g id="c-n47"><circle cx="208" cy="767" r="1.3" class="g"/></g>
</g>
<g id="nodes-d">
<g id="d-n1"><circle cx="507" cy="502" r="1.8" class="y"/></g>
<g id="d-n2"><circle cx="564" cy="506" r="1.8" class="y"/></g>
<g id="d-n3"><circle cx="507" cy="524" r="3" class="w"/></g>
<g id="d-n4"><circle cx="501" cy="529" r="1.5" class="y"/></g>
<g id="d-n5"><circle cx="526" cy="527" r="2.7" class="y"/></g>
<g id="d-n6"><circle cx="604" cy="521" r="2.5" class="y"/></g>
<g id="d-n7"><circle cx="628" cy="519" r="5.5" class="o"/></g>
<g id="d-n8"><circle cx="570" cy="529" r="2" class="w"/></g>
<g id="d-n9"><circle cx="592" cy="533" r="1.3" class="y"/></g>
<g id="d-n10"><circle cx="624" cy="533" r="1.3" class="y"/></g>
<g id="d-n11"><circle cx="651" cy="536" r="1.3" class="y"/></g>
<g id="d-n12"><circle cx="508" cy="538" r="2.2" class="y"/></g>
<g id="d-n13"><circle cx="464" cy="545" r="2.3" class="o"/></g>
<g id="d-n14"><circle cx="539" cy="545" r="3.5" class="o"/><circle cx="540" cy="541" r="1.5" class="y"/></g>
<g id="d-n15"><circle cx="626" cy="542" r="1.1" class="g"/></g>
<g id="d-n16"><circle cx="493" cy="560" r="3" class="o"/></g>
<g id="d-n17"><circle cx="639" cy="555" r="1.3" class="y"/></g>
<g id="d-n18"><circle cx="642" cy="557" r="1.3" class="w"/></g>
<g id="d-n19"><circle cx="644" cy="559" r="1.3" class="w"/></g>
<g id="d-n20"><circle cx="595" cy="557" r="1.8" class="w"/></g>
<g id="d-n21"><circle cx="576" cy="561" r="1.3" class="w"/></g>
<g id="d-n22"><circle cx="504" cy="566" r="1.1" class="g"/></g>
<g id="d-n23"><circle cx="469" cy="569" r="3" class="y"/></g>
<g id="d-n24"><circle cx="562" cy="569" r="1.8" class="w"/></g>
<g id="d-n25"><circle cx="629" cy="570" r="1.1" class="g"/></g>
<g id="d-n26"><circle cx="527" cy="574" r="4.3" class="y"/></g>
<g id="d-n27"><circle cx="533" cy="575" r="1.3" class="y"/></g>
<g id="d-n28"><circle cx="605" cy="573" r="1.1" class="g"/></g>
<g id="d-n29"><circle cx="574" cy="576" r="1.3" class="y"/></g>
<g id="d-n30"><circle cx="518" cy="581" r="1.5" class="y"/></g>
<g id="d-n31"><circle cx="502" cy="587" r="3" class="o"/></g>
<g id="d-n32"><circle cx="543" cy="588" r="1.5" class="w"/></g>
<g id="d-n33"><circle cx="586" cy="588" r="2" class="y"/></g>
<g id="d-n34"><circle cx="631" cy="587" r="2" class="y"/></g>
<g id="d-n35"><circle cx="602" cy="593" r="1.1" class="g"/></g>
<g id="d-n36"><circle cx="485" cy="599" r="1.8" class="y"/></g>
<g id="d-n37"><circle cx="505" cy="603" r="4.5" class="o"/></g>
<g id="d-n38"><circle cx="532" cy="604" r="1.6" class="w"/></g>
<g id="d-n39"><circle cx="541" cy="601" r="1.5" class="y"/></g>
<g id="d-n40"><circle cx="542" cy="604" r="1.5" class="y"/></g>
<g id="d-n41"><circle cx="499" cy="611" r="1.8" class="y"/></g>
<g id="d-n42"><circle cx="667" cy="612" r="7.5" class="o"/></g>
<g id="d-n43"><circle cx="596" cy="622" r="1.3" class="y"/></g>
<g id="d-n44"><circle cx="513" cy="628" r="2.3" class="o"/></g>
<g id="d-n45"><circle cx="531" cy="625" r="1.1" class="g"/></g>
<g id="d-n46"><circle cx="647" cy="632" r="1.1" class="g"/></g>
<g id="d-n47"><circle cx="571" cy="639" r="2" class="w"/></g>
<g id="d-n48"><circle cx="623" cy="641" r="1.1" class="g"/></g>
<g id="d-n49"><circle cx="530" cy="643" r="1.3" class="y"/></g>
<g id="d-n50"><circle cx="532" cy="645" r="1.3" class="y"/></g>
<g id="d-n51"><circle cx="472" cy="660" r="1.3" class="y"/></g>
<g id="d-n52"><circle cx="564" cy="663" r="1.5" class="o"/></g>
<g id="d-n53"><circle cx="571" cy="662" r="1.1" class="g"/></g>
<g id="d-n54"><circle cx="573" cy="672" r="5.5" class="y"/></g>
<g id="d-n55"><circle cx="636" cy="665" r="1.1" class="g"/></g>
<g id="d-n56"><circle cx="541" cy="675" r="1.5" class="o"/></g>
<g id="d-n57"><circle cx="669" cy="673" r="9" class="o"/></g>
<g id="d-n58"><circle cx="648" cy="685" r="9" class="o"/></g>
<g id="d-n59"><circle cx="776" cy="669" r="1.1" class="g"/></g>
<g id="d-n60"><circle cx="717" cy="697" r="1.1" class="g"/></g>
<g id="d-n61"><circle cx="638" cy="704" r="1.5" class="w"/></g>
<g id="d-n62"><circle cx="724" cy="729" r="17" class="r"/></g>
<g id="d-n63"><circle cx="669" cy="722" r="1.1" class="g"/></g>
<g id="d-n64"><circle cx="544" cy="732" r="1.1" class="g"/></g>
<g id="d-n65"><circle cx="556" cy="744" r="1.1" class="g"/></g>
<g id="d-n66"><circle cx="597" cy="746" r="1.3" class="o"/></g>
<g id="d-n67"><circle cx="616" cy="765" r="1.1" class="g"/></g>
<g id="d-n68"><circle cx="706" cy="553" r="1.1" class="g"/></g>
<g id="d-n69"><circle cx="754" cy="550" r="1.1" class="g"/></g>
</g>
<g id="labels">
<text x="140" y="398" text-anchor="middle" textLength="157" lengthAdjust="spacingAndGlyphs">(a) DS1 (1-chain)</text>
<text x="600" y="398" text-anchor="middle" textLength="158" lengthAdjust="spacingAndGlyphs">(b) DS1 (4-chain)</text>
<text x="192" y="852" text-anchor="middle" textLength="157" lengthAdjust="spacingAndGlyphs">(c) DS4 (1-chain)</text>
<text x="616" y="852" text-anchor="middle" textLength="157" lengthAdjust="spacingAndGlyphs">(d) DS4 (4-chain)</text>
</g>
</svg>
